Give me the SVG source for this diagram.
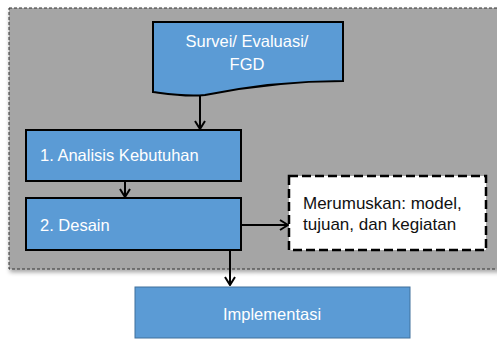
<svg xmlns="http://www.w3.org/2000/svg" width="497" height="340" viewBox="0 0 497 340">
  <style>
    .proc { fill: #5B9BD5; stroke: #000; stroke-width: 2; }
    .lbl { font-family: "Liberation Sans", Arial, sans-serif; font-size: 16.5px; fill: #fff; }
    .note { font-family: "Liberation Sans", Arial, sans-serif; font-size: 17px; fill: #111; }
    .conn { stroke: #000; stroke-width: 2; fill: none; }
  </style>
  <defs>
    <marker id="arrow" viewBox="0 0 10 12" refX="9" refY="6" markerWidth="10" markerHeight="12" markerUnits="userSpaceOnUse" orient="auto">
      <path d="M1,1 L9,6 L1,11" fill="none" stroke="#000" stroke-width="2"/>
    </marker>
    <filter id="shadow" x="-5%" y="-5%" width="110%" height="115%">
      <feDropShadow dx="1" dy="3" stdDeviation="2" flood-color="#000" flood-opacity="0.35"/>
    </filter>
  </defs>

  <rect width="497" height="340" fill="#fff"/>

  <!-- grouping frame -->
  <g id="frame">
    <rect x="9" y="8" width="500" height="261" fill="#A5A5A5" stroke="#333" stroke-width="1" stroke-dasharray="3,2" filter="url(#shadow)"/>
  </g>

  <!-- document: survey / evaluation / FGD -->
  <g id="survei">
    <path class="proc" d="M153,22 H343 V81 C300,81 250,86 205,95 C185,97 168,94 153,92 Z"/>
    <text class="lbl" x="247" y="47" text-anchor="middle">Survei/ Evaluasi/</text>
    <text class="lbl" x="247" y="70" text-anchor="middle">FGD</text>
  </g>

  <g id="analisis">
    <rect class="proc" x="26" y="130" width="215" height="51"/>
    <text class="lbl" x="40" y="161">1. Analisis Kebutuhan</text>
  </g>

  <g id="desain">
    <rect class="proc" x="26" y="198" width="215" height="52"/>
    <text class="lbl" x="40" y="231">2. Desain</text>
  </g>

  <g id="merumuskan">
    <rect x="289" y="176" width="197" height="74" fill="#fff" stroke="#000" stroke-width="2.5" stroke-dasharray="9,4"/>
    <text class="note" x="303" y="209">Merumuskan: model,</text>
    <text class="note" x="303" y="230">tujuan, dan kegiatan</text>
  </g>

  <g id="implementasi">
    <rect x="135" y="287" width="275" height="51" fill="#5B9BD5" stroke="#41719C" stroke-width="1"/>
    <text class="lbl" x="272" y="320" text-anchor="middle">Implementasi</text>
  </g>

  <!-- connectors -->
  <g id="connectors">
    <line class="conn" x1="200" y1="96" x2="200" y2="129" marker-end="url(#arrow)"/>
    <line class="conn" x1="125" y1="181" x2="125" y2="197" marker-end="url(#arrow)"/>
    <line class="conn" x1="241" y1="225" x2="288" y2="225" marker-end="url(#arrow)"/>
    <line class="conn" x1="230" y1="250" x2="230" y2="285" marker-end="url(#arrow)"/>
  </g>
</svg>
